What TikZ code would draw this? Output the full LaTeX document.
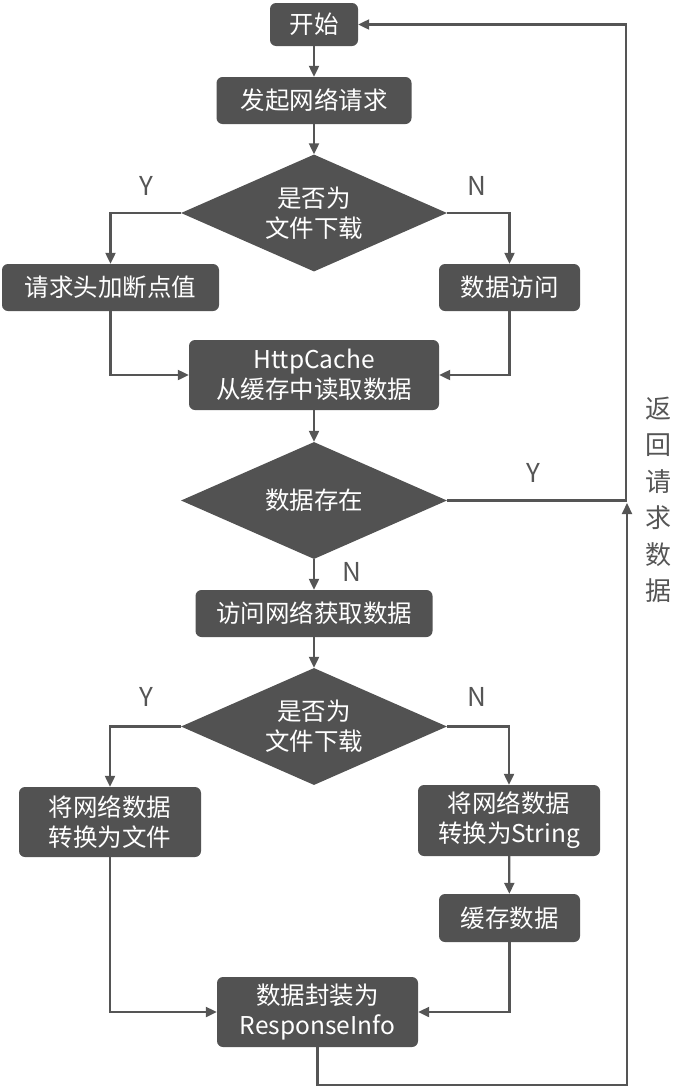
\documentclass[tikz,border=0pt]{standalone}
\usepackage{fontspec}
\setmainfont{Noto Sans CJK SC}
\usetikzlibrary{arrows.meta,shapes.geometric}
\definecolor{boxc}{HTML}{525252}
\definecolor{linec}{HTML}{555555}
\begin{document}
\begin{tikzpicture}[x=1pt,y=-1pt,
  box/.style={fill=boxc, rounded corners=6pt, text=white, font=\fontsize{24.5}{30}\selectfont, align=center, inner sep=0pt},
  dia/.style={diamond, fill=boxc, text=white, font=\fontsize{24.5}{30}\selectfont, align=center, inner sep=0pt, aspect=2.26, minimum width=266pt, minimum height=117pt},
  line/.style={draw=linec, line width=2.2pt},
  arr/.style={line, -{Triangle[length=11pt,width=10pt]}},
  lbl/.style={text=linec, font=\fontsize{26}{26}\selectfont, inner sep=0pt}]
\path[use as bounding box] (0,0) rectangle (690,1087);

\node[box, minimum width=88pt, minimum height=43pt] (start) at (314,24.5) {开始};
\node[box, minimum width=195pt, minimum height=47pt] (req) at (314,100.5) {发起网络请求};
\node[dia] (d1) at (314,213) {是否为\\文件下载};
\node[box, minimum width=217pt, minimum height=47pt] (hdr) at (110.5,287.5) {请求头加断点值};
\node[box, minimum width=141pt, minimum height=47pt] (acc) at (509.5,287.5) {数据访问};
\node[box, minimum width=250pt, minimum height=70pt] (http) at (314,375) {HttpCache\\从缓存中读取数据};
\node[dia] (d2) at (314,500.5) {数据存在};
\node[box, minimum width=237pt, minimum height=47pt] (net) at (314,613.5) {访问网络获取数据};
\node[dia] (d3) at (314,726.5) {是否为\\文件下载};
\node[box, minimum width=182pt, minimum height=70pt] (fl) at (110,822) {将网络数据\\转换为文件};
\node[box, minimum width=182pt, minimum height=71pt] (st) at (509,820.5) {将网络数据\\转换为String};
\node[box, minimum width=141pt, minimum height=48pt] (cache) at (509.5,918) {缓存数据};
\node[box, minimum width=201pt, minimum height=70pt] (resp) at (317.5,1012) {数据封装为\\ResponseInfo};

\node[lbl] (y1) at (146,186) {Y};
\node[lbl] (n1) at (477,186) {N};
\node[lbl] (y2) at (533,473) {Y};
\node[lbl] (n2) at (352,572) {N};
\node[lbl] (y3) at (146,697) {Y};
\node[lbl] (n3) at (477,697) {N};
\node[text=linec, font=\fontsize{26}{36.5}\selectfont, align=center, inner sep=0pt] (ret) at (658,500) {返\\回\\请\\求\\数\\据};

\coordinate (rtop) at (626,24.5);
\coordinate (rbot) at (627,1085);
\coordinate (rmid) at (627,503);

\draw[arr] (start) -- (req);
\draw[arr] (req) -- (d1);
\draw[arr] (d1.west) -| (hdr.north);
\draw[arr] (d1.east) -| (acc.north);
\draw[arr] (hdr.south) |- (http.west);
\draw[arr] (acc.south) |- (http.east);
\draw[arr] (http) -- (d2);
\draw[arr] (d2) -- (net);
\draw[arr] (net) -- (d3);
\draw[arr] (d3.west) -| (fl.north);
\draw[arr] (d3.east) -| (st.north);
\draw[arr] (st) -- (cache);
\draw[arr] (fl.south) |- (resp.west);
\draw[arr] (cache.south) |- (resp.east);
\draw[arr] (d2.east) -| (rtop) -- (start.east);
\draw[arr] (resp.south) |- (rbot) -- (rmid);
\end{tikzpicture}
\end{document}
